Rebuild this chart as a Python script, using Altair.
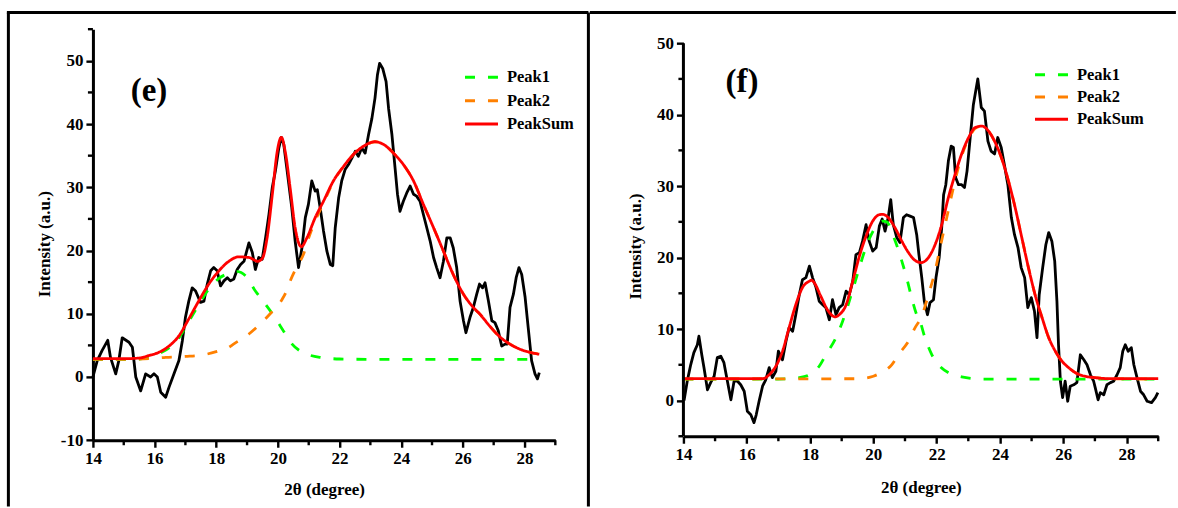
import altair as alt
import pandas as pd

# ---------------- panel (e) ----------------
e_exp_x = [14.0, 14.14, 14.30, 14.48, 14.57, 14.74, 14.84, 14.95, 15.17, 15.28, 15.39, 15.55, 15.71, 15.87,
           15.98, 16.09, 16.20, 16.36, 16.47, 16.63, 16.79, 16.90, 17.00, 17.11, 17.22, 17.33, 17.49, 17.60,
           17.71, 17.82, 17.92, 18.03, 18.14, 18.25, 18.36, 18.46, 18.57, 18.68, 18.79, 18.90, 19.06, 19.17,
           19.27, 19.38, 19.49, 19.60, 19.71, 19.82, 19.92, 20.03, 20.11, 20.19, 20.30, 20.45, 20.56, 20.67,
           20.78, 20.89, 20.99, 21.10, 21.21, 21.28, 21.37, 21.48, 21.59, 21.70, 21.78, 21.86, 21.97, 22.07,
           22.18, 22.29, 22.40, 22.51, 22.61, 22.72, 22.83, 22.94, 23.05, 23.15, 23.23, 23.30, 23.40, 23.51,
           23.59, 23.70, 23.80, 23.88, 23.96, 24.07, 24.18, 24.29, 24.40, 24.50, 24.61, 24.72, 24.83, 24.94,
           25.05, 25.15, 25.26, 25.37, 25.48, 25.59, 25.69, 25.80, 25.91, 26.02, 26.10, 26.23, 26.34, 26.45,
           26.54, 26.64, 26.72, 26.83, 26.94, 27.04, 27.15, 27.26, 27.37, 27.44, 27.53, 27.64, 27.73, 27.82,
           27.91, 28.02, 28.12, 28.23, 28.34, 28.42, 28.48]
e_exp_y = [0.0, 2.6, 4.2, 5.8, 3.1, 0.5, 2.6, 6.2, 5.5, 4.7, 0.0, -2.2, 0.5, 0.0,
           0.5, 0.0, -2.4, -3.2, -1.6, 0.5, 2.6, 5.7, 9.4, 12.0, 14.1, 13.6, 11.8, 12.0,
           14.7, 16.8, 17.3, 16.8, 14.4, 15.2, 15.7, 15.2, 15.5, 17.0, 17.8, 18.3, 21.2, 19.7,
           17.0, 18.9, 18.6, 22.0, 25.7, 30.0, 32.6, 36.2, 37.9, 36.8, 32.6, 26.8, 21.5, 17.3,
           20.4, 25.2, 27.3, 31.0, 29.4, 29.6, 26.8, 23.1, 19.9, 17.8, 17.6, 23.6, 28.3, 31.0,
           32.8, 33.6, 34.6, 35.7, 34.9, 36.2, 35.4, 38.3, 40.9, 44.1, 47.8, 49.6, 48.8, 46.7,
           42.5, 38.3, 33.1, 28.9, 26.2, 27.8, 29.1, 30.2, 28.9, 28.6, 27.8, 25.7, 23.6, 21.5,
           18.9, 17.3, 15.7, 18.3, 22.0, 22.0, 20.4, 17.3, 12.0, 8.9, 7.0, 9.4, 11.0, 13.1,
           14.7, 14.1, 14.9, 12.0, 8.9, 8.6, 7.3, 4.9, 5.2, 5.2, 11.0, 13.1, 15.7, 17.3,
           16.2, 12.6, 7.8, 2.6, 0.5, -0.3, 0.7]

e_sum_x = [14.0, 15.0, 15.5, 15.82, 16.14, 16.47, 16.79, 17.10, 17.43, 17.76, 18.09, 18.41, 18.73, 19.06,
           19.35, 19.50, 19.65, 19.82, 19.98, 20.11, 20.25, 20.40, 20.56, 20.76, 20.94, 21.21, 21.48, 21.80,
           22.13, 22.45, 22.78, 23.15, 23.42, 23.75, 24.07, 24.40, 24.72, 25.05, 25.37, 25.69, 26.02, 26.34,
           26.56, 26.88, 27.21, 27.53, 27.85, 28.18, 28.48]
e_sum_y = [2.9, 2.9, 3.0, 3.4, 3.9, 4.9, 6.5, 9.1, 12.0, 14.7, 16.8, 18.3, 19.0, 18.9,
           18.3, 18.8, 22.0, 28.9, 35.7, 37.9, 35.3, 29.8, 23.6, 20.6, 22.0, 25.2, 27.8, 31.0,
           33.3, 35.2, 36.5, 37.2, 36.8, 35.4, 33.6, 31.0, 27.3, 23.6, 19.9, 16.2, 13.1, 11.0,
           9.9, 8.0, 6.3, 5.2, 4.4, 3.9, 3.6]

e_p1_x = [14.0, 15.0, 15.5, 16.14, 16.47, 16.79, 17.10, 17.43, 17.76, 18.09, 18.41, 18.65, 18.95, 19.27,
          19.55, 19.82, 20.14, 20.41, 20.76, 21.0, 21.37, 22.0, 23.0, 28.5]
e_p1_y = [2.8, 2.8, 2.85, 3.7, 4.6, 6.2, 8.7, 11.4, 13.9, 15.6, 16.4, 16.7, 16.0, 13.6,
          11.8, 10.0, 7.6, 5.5, 4.0, 3.5, 3.1, 2.85, 2.8, 2.8]

e_p2_x = [14.0, 15.0, 16.0, 16.36, 17.0, 17.58, 18.0, 18.41, 18.56, 19.06, 19.30, 19.75, 20.14, 20.27,
          20.41, 20.60, 20.83, 21.0, 21.21, 21.48, 21.80, 22.13, 22.45, 22.78, 23.15, 23.42, 23.75, 24.07,
          24.40, 24.72, 25.05, 25.37, 25.69, 26.02, 26.34, 26.56, 26.88, 27.21, 27.53, 27.85, 28.18, 28.48]
e_p2_y = [2.8, 2.8, 2.95, 3.1, 3.25, 3.5, 4.0, 4.7, 5.2, 6.8, 7.8, 10.0, 12.3, 13.5,
          15.3, 17.3, 19.4, 22.0, 24.7, 27.5, 30.9, 33.3, 35.2, 36.5, 37.2, 36.8, 35.4, 33.6,
          31.0, 27.3, 23.6, 19.9, 16.2, 13.1, 11.0, 9.9, 8.0, 6.3, 5.2, 4.4, 3.9, 3.6]

# ---------------- panel (f) ----------------
f_exp_x = [14.02, 14.12, 14.23, 14.33, 14.44, 14.49, 14.58, 14.65, 14.76, 14.86, 14.97, 15.07, 15.18, 15.28,
           15.39, 15.50, 15.60, 15.71, 15.81, 15.92, 16.02, 16.13, 16.23, 16.30, 16.39, 16.50, 16.60, 16.71,
           16.81, 16.92, 17.00, 17.13, 17.24, 17.34, 17.45, 17.55, 17.66, 17.76, 17.87, 17.98, 18.08, 18.19,
           18.29, 18.40, 18.50, 18.61, 18.71, 18.82, 18.92, 19.03, 19.14, 19.24, 19.35, 19.45, 19.56, 19.66,
           19.77, 19.87, 19.98, 20.09, 20.19, 20.28, 20.37, 20.47, 20.55, 20.63, 20.74, 20.84, 20.95, 21.05,
           21.16, 21.27, 21.37, 21.44, 21.53, 21.61, 21.71, 21.79, 21.90, 21.98, 22.08, 22.16, 22.22, 22.29,
           22.37, 22.46, 22.53, 22.60, 22.69, 22.79, 22.88, 22.96, 23.06, 23.16, 23.30, 23.41, 23.51, 23.62,
           23.72, 23.83, 23.93, 24.04, 24.14, 24.25, 24.36, 24.46, 24.57, 24.67, 24.78, 24.88, 24.99, 25.09,
           25.17, 25.24, 25.35, 25.45, 25.54, 25.64, 25.73, 25.80, 25.85, 25.91, 25.98, 26.06, 26.14, 26.22,
           26.33, 26.43, 26.54, 26.65, 26.75, 26.86, 26.96, 27.01, 27.10, 27.17, 27.28, 27.38, 27.49, 27.59,
           27.70, 27.80, 27.88, 27.96, 28.05, 28.15, 28.23, 28.33, 28.44, 28.54, 28.65, 28.79, 28.91, 28.99]
f_exp_y = [0.0, 2.7, 5.0, 6.7, 7.8, 9.0, 6.4, 4.6, 1.5, 2.5, 3.4, 6.0, 6.2, 5.3,
           2.7, 0.1, 2.7, 2.7, 2.2, 1.3, -1.5, -2.0, -3.1, -2.0, -0.1, 2.0, 2.9, 4.6,
           3.2, 4.1, 6.9, 5.7, 8.3, 10.2, 9.7, 12.0, 14.8, 16.9, 17.2, 18.8, 17.2, 15.8,
           13.9, 13.4, 13.0, 11.3, 14.1, 12.0, 13.0, 13.4, 15.3, 14.8, 16.7, 20.4, 20.7, 22.3,
           24.6, 22.3, 20.9, 21.4, 24.4, 25.4, 23.7, 25.6, 28.1, 24.6, 22.8, 22.1, 25.6, 26.0,
           25.8, 25.6, 23.2, 20.4, 17.2, 13.9, 12.0, 13.7, 14.1, 17.2, 20.0, 24.2, 28.8, 30.2,
           33.5, 35.6, 35.4, 31.2, 30.2, 30.2, 29.8, 32.1, 36.8, 41.4, 45.0, 41.0, 40.5, 36.3,
           34.9, 34.5, 36.8, 35.4, 33.0, 30.2, 25.6, 23.2, 21.4, 18.6, 17.2, 13.0, 14.4, 12.5,
           8.8, 14.8, 18.6, 21.8, 23.5, 22.3, 19.5, 13.9, 7.8, 2.7, 0.4, 2.7, -0.1, 2.0,
           2.2, 2.5, 6.4, 5.7, 5.0, 3.6, 2.7, 1.8, 0.1, 1.1, 0.8, 2.2, 2.5, 2.7,
           3.6, 4.6, 6.9, 7.8, 6.9, 7.4, 5.0, 3.2, 1.3, 0.8, -0.1, -0.3, 0.4, 1.1]

f_sum_x = [14.0, 16.5, 16.71, 16.92, 17.13, 17.34, 17.55, 17.76, 17.98, 18.05, 18.13, 18.34, 18.55, 18.80,
           18.92, 19.14, 19.35, 19.56, 19.77, 19.98, 20.19, 20.30, 20.47, 20.68, 20.90, 21.11, 21.32, 21.51,
           21.74, 21.95, 22.16, 22.37, 22.58, 22.79, 23.01, 23.22, 23.43, 23.64, 23.85, 24.06, 24.27, 24.48,
           24.69, 24.90, 25.11, 25.33, 25.54, 25.75, 25.96, 26.17, 26.38, 26.59, 27.01, 27.50, 29.0]
f_sum_y = [3.05, 3.05, 3.6, 4.8, 6.9, 10.2, 13.4, 15.8, 16.7, 16.85, 16.5, 14.6, 12.7, 11.7,
           12.0, 13.4, 16.7, 20.2, 23.0, 25.1, 26.0, 26.05, 25.6, 24.2, 22.3, 20.7, 19.6, 19.3,
           20.0, 21.8, 24.6, 28.4, 31.6, 34.5, 36.8, 38.2, 38.4, 37.7, 36.1, 33.8, 30.7, 27.0,
           22.8, 18.6, 14.8, 11.6, 8.8, 6.9, 5.5, 4.6, 3.9, 3.5, 3.2, 3.05, 3.05]

f_p1_x = [14.0, 17.0, 17.66, 17.98, 18.29, 18.50, 18.82, 19.03, 19.14, 19.35, 19.56, 19.77, 19.98, 20.20,
          20.30, 20.42, 20.70, 20.90, 21.05, 21.21, 21.37, 21.48, 21.63, 21.85, 22.06, 22.37, 22.79, 23.43, 29.0]
f_p1_y = [3.0, 3.0, 3.2, 3.6, 4.8, 6.4, 8.8, 11.1, 12.5, 15.5, 18.6, 21.5, 23.6, 24.9,
          25.1, 25.0, 22.2, 19.5, 17.2, 14.4, 12.0, 11.0, 8.8, 6.4, 5.0, 3.9, 3.3, 3.0, 3.0]

f_p2_x = [14.0, 19.5, 20.0, 20.2, 20.58, 20.79, 21.11, 21.32, 21.51, 21.74, 21.95, 22.11, 22.32, 22.53,
          22.79, 23.01, 23.22, 23.43, 23.64, 23.85, 24.06, 24.27, 24.48, 24.69, 24.90, 25.11, 25.33, 25.54,
          25.75, 25.96, 26.17, 26.38, 26.59, 27.01, 27.50, 29.0]
f_p2_y = [3.0, 3.05, 3.4, 3.8, 5.0, 6.4, 8.3, 10.2, 11.6, 14.8, 18.1, 21.4, 25.6, 29.8,
          34.2, 36.6, 38.1, 38.4, 37.7, 36.1, 33.8, 30.7, 27.0, 22.8, 18.6, 14.8, 11.6, 8.8,
          6.9, 5.5, 4.6, 3.9, 3.5, 3.2, 3.05, 3.0]

# ---------------- labels / ticks ----------------
series_names = ["Peak1", "Peak2", "PeakSum"]
series_colors = ["#00ff00", "#ff8000", "#ff0000"]
series_dash = [[10, 13], [10, 13], [1, 0]]
x_major = [14, 16, 18, 20, 22, 24, 26, 28]
x_minor = [15, 17, 19, 21, 23, 25, 27, 29]
e_y_major = [-10, 0, 10, 20, 30, 40, 50]
e_y_minor = [-5, 5, 15, 25, 35, 45, 55]
f_y_major = [0, 10, 20, 30, 40, 50]
f_y_minor = [-5, 5, 15, 25, 35, 45]
x_title = "2θ (degree)"
y_title = "Intensity (a.u.)"

FONT = "Liberation Serif"

# absolute layout (pixels in the 1178x508 page)
TOP_PLOT = 28.3
E_ORIGIN = (92.6, TOP_PLOT)
F_ORIGIN = (682.1, TOP_PLOT)
E_SIZE = (462.8, 411.4)
F_SIZE = (475.2, 407.4)
FRAME_W = 3
TOP_Y = 11.5
LEFT_X = 8.0
DIV_X = 588.5
BOTTOM_Y = 506.0
RIGHT_X = 1175.0
MAJOR_TICK = 7
MINOR_TICK = 5
# legend: long horizontal stroke drawn with a small symbol size so rows stay compact
LEGEND_SYMBOL = "M-1.65,0H1.65"
LEGEND_SIZE = 400


def fits_frame(names, xs, ys):
    rows = []
    for n, xx, yy in zip(names, xs, ys):
        for a, b in zip(xx, yy):
            rows.append({"x": a, "y": b, "series": n})
    return pd.DataFrame(rows)


def x_axis(title_y):
    return alt.Axis(
        values=x_major, title=x_title, grid=False, format="d",
        labelFlush=False, labelOverlap=False,
        tickSize=MAJOR_TICK, tickWidth=2.4, tickColor="black", domainColor="black", domainWidth=3,
        labelFont=FONT, labelFontWeight="bold", labelFontSize=17, labelColor="black", labelPadding=3,
        titleFont=FONT, titleFontWeight="bold", titleFontSize=17, titleColor="black",
        titleY=title_y, titleBaseline="alphabetic",
    )


def y_axis(values, title_y, show_domain):
    return alt.Axis(
        values=values, title=y_title, grid=False,
        labelExpr="'' + datum.value",
        labelFlush=False, labelOverlap=False, domain=show_domain,
        tickSize=MAJOR_TICK, tickWidth=2.4, tickColor="black", domainColor="black", domainWidth=3,
        labelFont=FONT, labelFontWeight="bold", labelFontSize=17, labelColor="black", labelPadding=3,
        titleFont=FONT, titleFontWeight="bold", titleFontSize=17, titleColor="black",
        titleX=-43, titleY=title_y, titleBaseline="alphabetic",
    )


def panel(exp_x, exp_y, fx, fy, xdom, ydom, y_major, y_minor, origin, size, tag, tag_xy,
          legend_xy, row_pad, title_y_x, title_y_y, frame_rules, y_axis_top=None):
    xs = alt.Scale(domain=xdom, nice=False, zero=False)
    ys = alt.Scale(domain=ydom, nice=False, zero=False)
    px_x = size[0] / (xdom[1] - xdom[0])
    px_y = size[1] / (ydom[1] - ydom[0])
    exp = pd.DataFrame({"x": exp_x, "y": exp_y})
    fits = fits_frame(series_names, fx, fy)

    legend = alt.Legend(
        title=None, orient="none", legendX=legend_xy[0], legendY=legend_xy[1],
        symbolType=LEGEND_SYMBOL, symbolSize=LEGEND_SIZE, symbolStrokeWidth=3, labelOffset=14,
        rowPadding=row_pad, padding=0,
        labelFont=FONT, labelFontWeight="bold", labelFontSize=16.5, labelColor="black",
    )

    black = alt.Chart(exp).mark_line(color="black", strokeWidth=2.8, strokeJoin="round").encode(
        x=alt.X("x:Q", scale=xs, axis=x_axis(title_y_x)),
        y=alt.Y("y:Q", scale=ys, axis=y_axis(y_major, title_y_y, y_axis_top is None)),
    )
    fit = alt.Chart(fits).mark_line(strokeWidth=2.8, interpolate="monotone").encode(
        x=alt.X("x:Q", scale=xs),
        y=alt.Y("y:Q", scale=ys),
        color=alt.Color("series:N", scale=alt.Scale(domain=series_names, range=series_colors), legend=legend),
        strokeDash=alt.StrokeDash("series:N", scale=alt.Scale(domain=series_names, range=series_dash),
                                  legend=legend),
    )
    tag_df = pd.DataFrame({"x": [tag_xy[0]], "y": [tag_xy[1]], "t": [tag]})
    tag_mark = alt.Chart(tag_df).mark_text(
        font=FONT, fontWeight="bold", fontSize=33, align="center", baseline="alphabetic", color="black"
    ).encode(x=alt.X("x:Q", scale=xs), y=alt.Y("y:Q", scale=ys), text="t:N")

    # minor ticks (shorter), drawn through the panel scales
    xm = pd.DataFrame({"x": x_minor, "y": [ydom[0]] * len(x_minor),
                       "y2": [ydom[0] - MINOR_TICK / px_y] * len(x_minor)})
    ym = pd.DataFrame({"y": y_minor, "x": [xdom[0]] * len(y_minor),
                       "x2": [xdom[0] - MINOR_TICK / px_x] * len(y_minor)})
    xminor = alt.Chart(xm).mark_rule(color="black", strokeWidth=2.4).encode(
        x=alt.X("x:Q", scale=xs), y=alt.Y("y:Q", scale=ys), y2="y2:Q")
    yminor = alt.Chart(ym).mark_rule(color="black", strokeWidth=2.4).encode(
        y=alt.Y("y:Q", scale=ys), x=alt.X("x:Q", scale=xs), x2="x2:Q")

    layers = [black, fit, tag_mark, xminor, yminor]

    if y_axis_top is not None:
        dl = pd.DataFrame({"x": [xdom[0]], "y": [ydom[0]], "y2": [y_axis_top]})
        layers.append(alt.Chart(dl).mark_rule(color="black", strokeWidth=3).encode(
            x=alt.X("x:Q", scale=xs), y=alt.Y("y:Q", scale=ys), y2="y2:Q"))

    one = pd.DataFrame({"k": [0]})
    ox, oy = origin
    for (x1, y1, x2, y2) in frame_rules:
        enc = dict(x=alt.value(x1 - ox), y=alt.value(y1 - oy))
        if x2 != x1:
            enc["x2"] = alt.value(x2 - ox)
        if y2 != y1:
            enc["y2"] = alt.value(y2 - oy)
        layers.append(alt.Chart(one).mark_rule(color="black", strokeWidth=FRAME_W).encode(**enc))

    return alt.layer(*layers).properties(width=size[0], height=size[1])


e_frame = [
    (LEFT_X - 1.5, TOP_Y, DIV_X, TOP_Y),          # top border (left half)
    (LEFT_X, TOP_Y, LEFT_X, BOTTOM_Y),            # left border
    (DIV_X, TOP_Y, DIV_X, BOTTOM_Y),              # divider
]
f_frame = [
    (DIV_X, TOP_Y, RIGHT_X, TOP_Y),               # top border (right half)
]

f_ytop = 50 + (42.3 - TOP_PLOT) / 7.152

e_chart = panel(e_exp_x, e_exp_y, [e_p1_x, e_p2_x, e_sum_x], [e_p1_y, e_p2_y, e_sum_y],
                [14, 29], [-10, 55], e_y_major, e_y_minor, E_ORIGIN, E_SIZE, "(e)", (15.82, 43.7),
                (470 - E_ORIGIN[0], 64.9 - E_ORIGIN[1]), 3.4, 54, 243 - E_ORIGIN[1], e_frame)
f_chart = panel(f_exp_x, f_exp_y, [f_p1_x, f_p2_x, f_sum_x], [f_p1_y, f_p2_y, f_sum_y],
                [14, 29], [-5, f_ytop], f_y_major, f_y_minor, F_ORIGIN, F_SIZE, "(f)", (15.85, 43.2),
                (1039 - F_ORIGIN[0], 62.5 - F_ORIGIN[1]), 2.2, 56, 245.3 - F_ORIGIN[1], f_frame,
                y_axis_top=50)

chart = alt.hconcat(e_chart, f_chart, spacing=-3).resolve_scale(
    color="independent", strokeDash="independent"
).properties(
    padding={"left": 5.0, "top": 10.0, "right": 0, "bottom": 0},
    background="white",
).configure_view(strokeWidth=0)

chart.save("out.html", embed_options={"renderer": "svg", "actions": False})
